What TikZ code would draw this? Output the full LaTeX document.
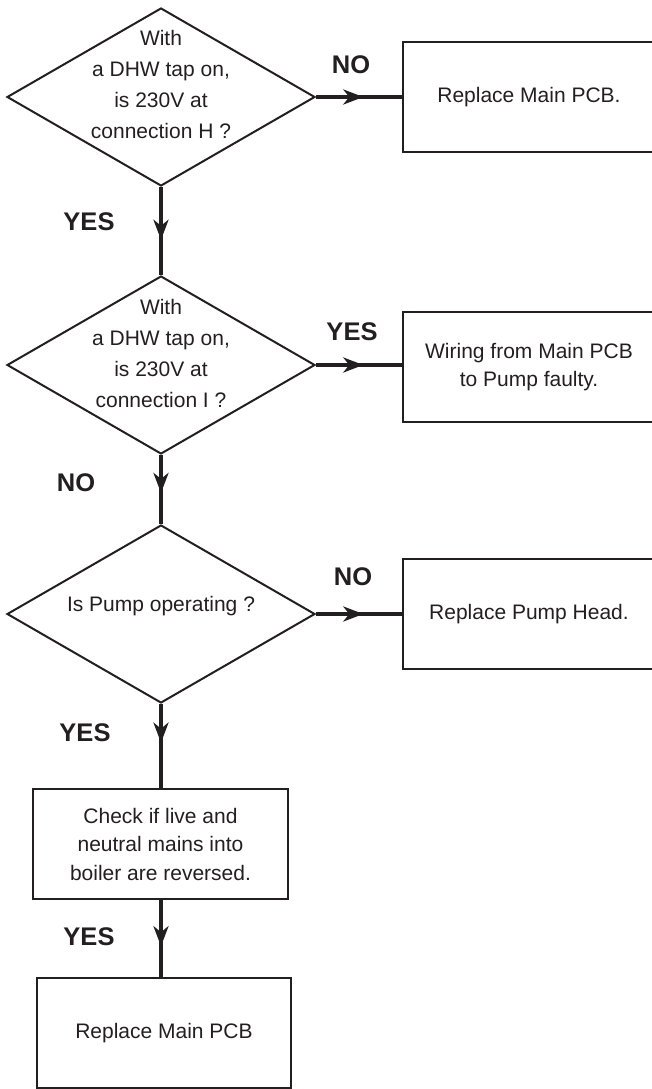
\documentclass[tikz,border=0pt]{standalone}
\usepackage{fontspec}
\setmainfont{Liberation Sans}
\usetikzlibrary{shapes.geometric,arrows.meta,calc}
\definecolor{ink}{HTML}{231F20}
\begin{document}
\begin{tikzpicture}[x=1pt,y=-1pt,
  decision/.style={diamond, draw=ink, line width=2pt, minimum width=308pt, minimum height=178pt, inner sep=0pt},
  qtext/.style={align=center, font=\fontsize{21}{31}\selectfont, text=ink, inner sep=0pt},
  actbox/.style={rectangle, draw=ink, line width=2pt, align=center, font=\fontsize{21}{28.5}\selectfont, text=ink, inner sep=0pt, minimum height=110pt},
  flow/.style={draw=ink, line width=4.5pt},
  head/.style={draw=ink, line width=4.5pt, -{Stealth[length=20pt,width=15pt,inset=6pt]}},
  ans/.style={font=\fontsize{25.5}{30}\selectfont\bfseries, text=ink, inner sep=0pt}]
\useasboundingbox (0,0) rectangle (652,1089);
\clip (0,0) rectangle (652,1089);

% decisions
\node[decision] (d1) at (161,97) {};
\node[qtext] (q1) at (161,84) {With\\a DHW tap on,\\is 230V at\\connection H ?};
\node[decision] (d2) at (161,365) {};
\node[qtext] (q2) at (161,353) {With\\a DHW tap on,\\is 230V at\\connection I ?};
\node[decision] (d3) at (161,614) {};
\node[qtext] (q3) at (161,606) {Is Pump operating ?};

% action boxes
\node[actbox, minimum width=252pt] (b1) at (529,97) {Replace Main PCB.};
\node[actbox, minimum width=252pt] (b2) at (529,367) {Wiring from Main PCB\\to Pump faulty.};
\node[actbox, minimum width=252pt] (b3) at (529,614) {Replace Pump Head.};
\node[actbox, minimum width=255pt] (b4) at (160.5,844) {Check if live and\\neutral mains into\\boiler are reversed.};
\node[actbox, minimum width=254pt] (b5) at (164,1033) {Replace Main PCB};

% horizontal connectors
\draw[flow] (d1.east) -- (d1.east -| b1.west);
\draw[head] (d1.east) -- ($(d1.east)!0.55!(d1.east -| b1.west)$);
\draw[flow] (d2.east) -- (d2.east -| b2.west);
\draw[head] (d2.east) -- ($(d2.east)!0.55!(d2.east -| b2.west)$);
\draw[flow] (d3.east) -- (d3.east -| b3.west);
\draw[head] (d3.east) -- ($(d3.east)!0.55!(d3.east -| b3.west)$);

% vertical connectors
\draw[flow] (d1.south) -- (d2.north);
\draw[head] (d1.south) -- ($(d1.south)!0.6!(d2.north)$);
\draw[flow] (d2.south) -- (d3.north);
\draw[head] (d2.south) -- ($(d2.south)!0.55!(d3.north)$);
\draw[flow] (d3.south) -- (d3.south |- b4.north);
\draw[head] (d3.south) -- ($(d3.south)!0.46!(d3.south |- b4.north)$);
\coordinate (b4s) at (d3.south |- b4.south);
\draw[flow] (b4s) -- (b4s |- b5.north);
\draw[head] (b4s) -- ($(b4s)!0.6!(b4s |- b5.north)$);

% answer labels
\node[ans] (l1) at (351,65) {NO};
\node[ans] (l2) at (89,222) {YES};
\node[ans] (l3) at (352,332) {YES};
\node[ans] (l4) at (76,483) {NO};
\node[ans] (l5) at (353,577) {NO};
\node[ans] (l6) at (85,733) {YES};
\node[ans] (l7) at (89,937) {YES};
\end{tikzpicture}
\end{document}
